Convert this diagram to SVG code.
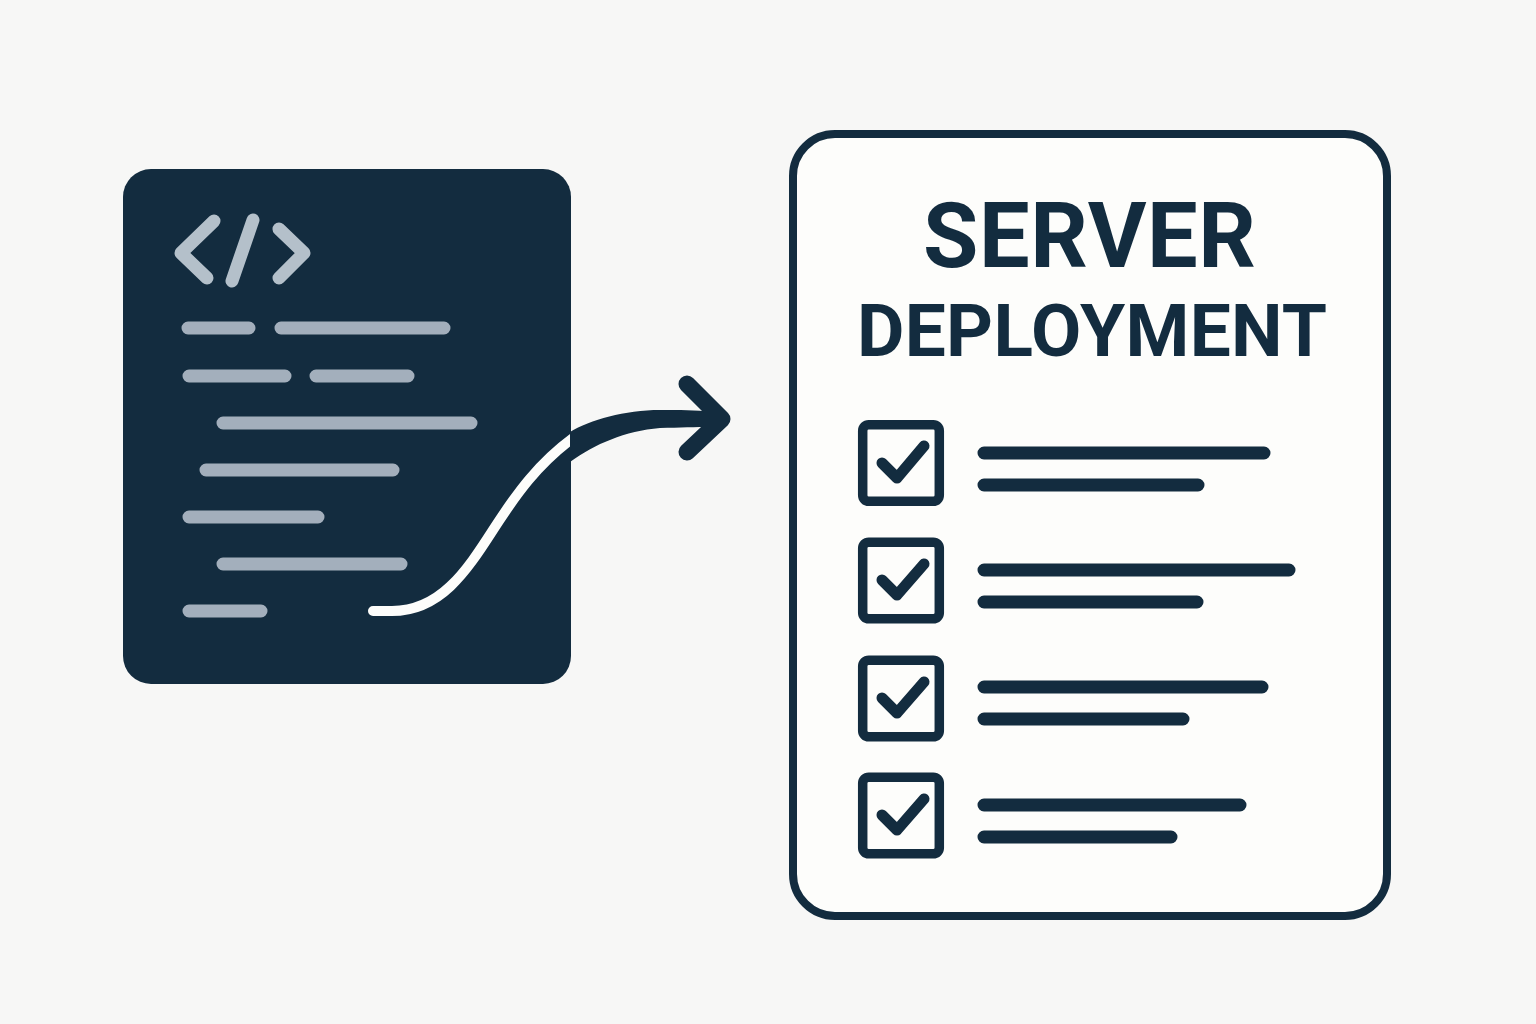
<svg xmlns="http://www.w3.org/2000/svg" width="1536" height="1024" viewBox="0 0 1536 1024">
<defs>
<style>
.bar{stroke:#a3afbc;stroke-width:13;stroke-linecap:round;fill:none}
.ink{stroke:#132c3f;stroke-linecap:round;stroke-linejoin:round;fill:none}
.line{stroke:#132c3f;stroke-width:13;stroke-linecap:round;fill:none}
.box{fill:none;stroke:#132c3f;stroke-width:9.500}
.check{fill:none;stroke:#132c3f;stroke-width:11;stroke-linecap:round;stroke-linejoin:round}
.code{fill:none;stroke:#b4c0ca;stroke-width:13;stroke-linecap:round;stroke-linejoin:round}
.title{font-family:Roboto,"Noto Sans","Liberation Sans",sans-serif;font-weight:700;fill:#132c3f;text-anchor:start}
</style>
<clipPath id="panelClip"><rect x="123" y="169" width="448" height="515"/></clipPath>
</defs>
<rect width="1536" height="1024" fill="#f7f7f6"/>
<g id="code-panel">
<rect x="123" y="169" width="448" height="515" rx="28" fill="#132c3f"/>
<path class="code" d="M214 221L181 253L207 278"/>
<path class="code" d="M253 220L232 281"/>
<path class="code" d="M279 229L304 253L279 278"/>
<path class="bar" d="M188 328H249M281 328H444M189 376H285M316 376H408M223 423H471M206 470H393M189 517H318M223 564H401M189 611H261"/>
</g>
<g id="deployment-card">
<rect x="793" y="134" width="594" height="782" rx="42" fill="#fdfdfb" stroke="#132c3f" stroke-width="8"/>
<text class="title" x="923" y="267" font-size="90" textLength="333" lengthAdjust="spacing">SERVER</text>
<text class="title" x="857" y="356" font-size="73" textLength="470" lengthAdjust="spacing">DEPLOYMENT</text>
</g>
<g id="item-1">
<rect class="box" x="862.700" y="424.700" width="76.600" height="76.600" rx="6"/>
<path class="check" d="M882 463L897 478L924 446"/>
<path class="line" d="M984 453H1264M984 485H1198"/>
</g>
<g id="item-2">
<rect class="box" x="862.700" y="542.200" width="76.600" height="76.600" rx="6"/>
<path class="check" d="M882 580L897 595L924 564"/>
<path class="line" d="M984 570H1289M984 602H1197"/>
</g>
<g id="item-3">
<rect class="box" x="862.700" y="660.200" width="76.600" height="76.600" rx="6"/>
<path class="check" d="M882 698L897 713L924 682"/>
<path class="line" d="M984 687H1262M984 719H1183"/>
</g>
<g id="item-4">
<rect class="box" x="862.700" y="777.200" width="76.600" height="76.600" rx="6"/>
<path class="check" d="M882 815L897 830L924 799"/>
<path class="line" d="M984 805H1240M984 837H1171"/>
</g>
<g id="connectors">
<path d="M373 611H392C440 611 466 572 493 530C515 496 538 462 580 433" fill="none" stroke="#fdfdfb" stroke-width="10" stroke-linecap="round" clip-path="url(#panelClip)"/>
<path d="M570 432C590 420 625 410 660 410C680 410 695 410 712 412V427C695 427 680 427.500 660 428C625 431 595 444 570 462Z" fill="#132c3f"/>
<path class="ink" stroke-width="17" d="M687 384L722 419L687 452"/>
</g>
</svg>
